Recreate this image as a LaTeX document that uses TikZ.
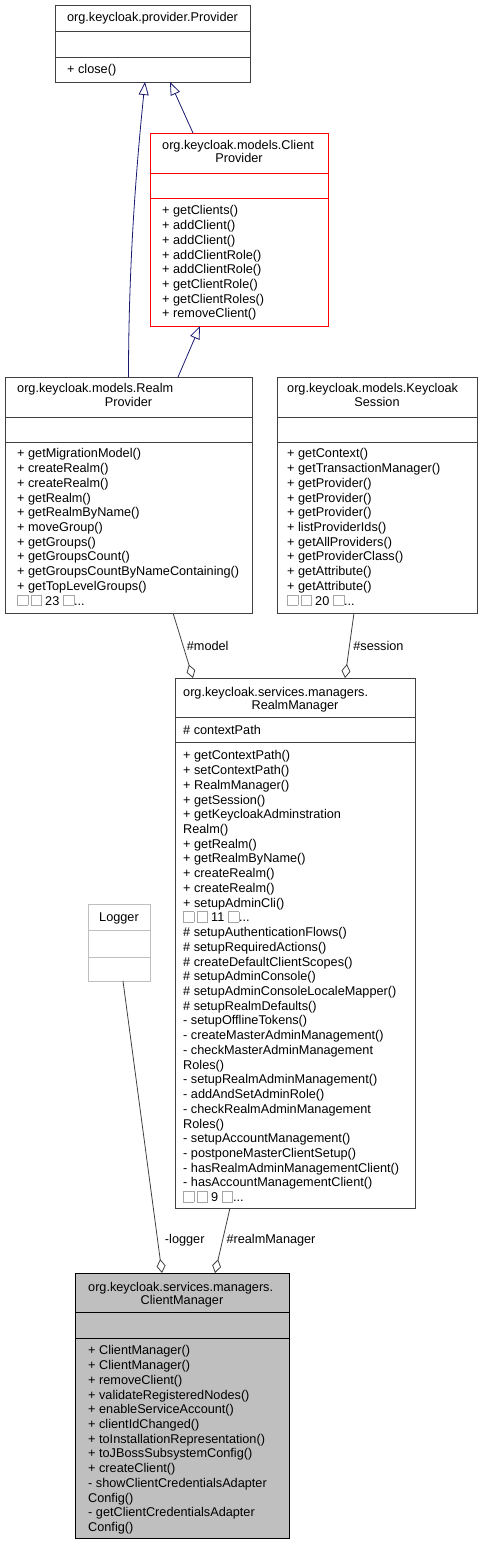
\documentclass[tikz,border=0pt]{standalone}
\usepackage{fontspec}
\setmainfont{Liberation Sans}
\usetikzlibrary{arrows.meta}

\definecolor{navyline}{RGB}{25,25,112}
\definecolor{dkgray}{RGB}{64,64,64}
\definecolor{ltgray}{RGB}{191,191,191}
\newcommand{\umlfont}{\fontsize{12.7}{14.73}\selectfont}
\newcommand{\gbox}{{\setlength{\fboxsep}{0pt}\setlength{\fboxrule}{0.6pt}\textcolor{gray!70}{\framebox{\rule{0pt}{10pt}\hspace{10pt}}}}}

\begin{document}
\begin{tikzpicture}[x=1pt,y=-1pt,
  cls/.style={draw=dkgray,line width=1pt,inner sep=0pt,outer sep=0pt,anchor=north west},
  txt/.style={inner sep=0pt,font=\umlfont},
  members/.style={txt,anchor=north west,align=left},
  lbl/.style={txt,anchor=west},
  inherit/.style={draw=navyline,line width=0.8pt,-{Triangle[open,length=13pt,width=10pt]}},
  aggr/.style={draw=dkgray,line width=0.8pt,-{Diamond[open,length=14pt,width=9pt]}}]
\useasboundingbox (0,0) rectangle (482,1545);

% org.keycloak.provider.Provider
\node[cls,minimum width=195pt,minimum height=77pt] (provider) at (55,5) {};
\draw[dkgray,line width=1pt] (55,31) -- (250,31) (55,57) -- (250,57);
\node[txt,anchor=base] (providername) at (152.5,21.6) {org.keycloak.provider.Provider};
\node[members] (providerops) at (67,63.3) {\strut+ close()};

% org.keycloak.models.ClientProvider
\node[cls,draw=red,minimum width=178pt,minimum height=193pt] (clientprov) at (150,133) {};
\draw[red,line width=1pt] (150,173) -- (328,173) (150,198) -- (328,198);
\node[txt,anchor=base west] (clientprovname) at (162,149.6) {org.keycloak.models.Client};
\node[txt,anchor=base] (clientprovname2) at (239,162.6) {Provider};
\node[members] (clientprovops) at (162,204.3) {\strut+ getClients()\\+ addClient()\\+ addClient()\\+ addClientRole()\\+ addClientRole()\\+ getClientRole()\\+ getClientRoles()\\+ removeClient()};

% org.keycloak.models.RealmProvider
\node[cls,minimum width=247pt,minimum height=236pt] (realmprov) at (5,377) {};
\draw[dkgray,line width=1pt] (5,417) -- (252,417) (5,442) -- (252,442);
\node[txt,anchor=base west] (realmprovname) at (17,392.6) {org.keycloak.models.Realm};
\node[txt,anchor=base] (realmprovname2) at (128.5,406.6) {Provider};
\node[members] (realmprovops) at (17,447.3) {\strut+ getMigrationModel()\\+ createRealm()\\+ createRealm()\\+ getRealm()\\+ getRealmByName()\\+ moveGroup()\\+ getGroups()\\+ getGroupsCount()\\+ getGroupsCountByNameContaining()\\+ getTopLevelGroups()\\\gbox\,\gbox\ 23 \gbox...};

% org.keycloak.models.KeycloakSession
\node[cls,minimum width=200pt,minimum height=236pt] (session) at (277,377) {};
\draw[dkgray,line width=1pt] (277,417) -- (477,417) (277,442) -- (477,442);
\node[txt,anchor=base west] (sessionname) at (287,392.6) {org.keycloak.models.Keycloak};
\node[txt,anchor=base] (sessionname2) at (377,406.6) {Session};
\node[members] (sessionops) at (287,447.3) {\strut+ getContext()\\+ getTransactionManager()\\+ getProvider()\\+ getProvider()\\+ getProvider()\\+ listProviderIds()\\+ getAllProviders()\\+ getProviderClass()\\+ getAttribute()\\+ getAttribute()\\\gbox\,\gbox\ 20 \gbox...};

% org.keycloak.services.managers.RealmManager
\node[cls,minimum width=240pt,minimum height=530pt] (realmmgr) at (175,678) {};
\draw[dkgray,line width=1pt] (175,717) -- (415,717) (175,742) -- (415,742);
\node[txt,anchor=base west] (realmmgrname) at (183,696.6) {org.keycloak.services.managers.};
\node[txt,anchor=base] (realmmgrname2) at (295,709.6) {RealmManager};
\node[members] (realmmgrattr) at (183,724.3) {\strut\# contextPath};
\node[members] (realmmgrops) at (183,749.3) {\strut+ getContextPath()\\+ setContextPath()\\+ RealmManager()\\+ getSession()\\+ getKeycloakAdminstration\\Realm()\\+ getRealm()\\+ getRealmByName()\\+ createRealm()\\+ createRealm()\\+ setupAdminCli()\\\gbox\,\gbox\ 11 \gbox...\\\# setupAuthenticationFlows()\\\# setupRequiredActions()\\\# createDefaultClientScopes()\\\# setupAdminConsole()\\\# setupAdminConsoleLocaleMapper()\\\# setupRealmDefaults()\\- setupOfflineTokens()\\- createMasterAdminManagement()\\- checkMasterAdminManagement\\Roles()\\- setupRealmAdminManagement()\\- addAndSetAdminRole()\\- checkRealmAdminManagement\\Roles()\\- setupAccountManagement()\\- postponeMasterClientSetup()\\- hasRealmAdminManagementClient()\\- hasAccountManagementClient()\\\gbox\,\gbox\ 9 \gbox...};

% Logger
\node[cls,draw=ltgray,minimum width=62pt,minimum height=77pt] (logger) at (88,904) {};
\draw[ltgray,line width=1pt] (88,930) -- (150,930) (88,957) -- (150,957);
\node[txt,anchor=base] (loggername) at (119,921.6) {Logger};

% org.keycloak.services.managers.ClientManager
\node[cls,draw=black,fill=ltgray,minimum width=214pt,minimum height=265pt] (climgr) at (75,1273) {};
\draw[black,line width=1pt] (75,1312) -- (289,1312) (75,1338) -- (289,1338);
\node[txt,anchor=base west] (climgrname) at (88,1291.6) {org.keycloak.services.managers.};
\node[txt,anchor=base] (climgrname2) at (182,1304.6) {ClientManager};
\node[members] (climgrops) at (88,1344.3) {\strut+ ClientManager()\\+ ClientManager()\\+ removeClient()\\+ validateRegisteredNodes()\\+ enableServiceAccount()\\+ clientIdChanged()\\+ toInstallationRepresentation()\\+ toJBossSubsystemConfig()\\+ createClient()\\- showClientCredentialsAdapter\\Config()\\- getClientCredentialsAdapter\\Config()};

% inheritance
\draw[inherit] ([xshift=-46pt]clientprov.north) -- ([xshift=17.5pt]provider.south);
\draw[inherit] (realmprov.north) .. controls (128.5,260) and (137,160) .. ([xshift=-7.5pt]provider.south);
\draw[inherit] ([xshift=49.5pt]realmprov.north) -- ([xshift=-39pt]clientprov.south);

% aggregation
\draw[aggr] ([xshift=44.5pt]realmprov.south) -- node[lbl,pos=0.5,xshift=3.5pt] {\#model} ([xshift=-102pt]realmmgr.north);
\draw[aggr] ([xshift=-23pt]session.south) -- node[lbl,pos=0.5,xshift=3.5pt] {\#session} ([xshift=50pt]realmmgr.north);
\draw[aggr] ([xshift=4pt]logger.south) -- node[lbl,pos=0.887,xshift=7pt] {-logger} ([xshift=-20pt]climgr.north);
\draw[aggr] ([xshift=-65pt]realmmgr.south) -- node[lbl,pos=0.49,xshift=3.5pt] {\#realmManager} ([xshift=33pt]climgr.north);
\end{tikzpicture}
\end{document}
